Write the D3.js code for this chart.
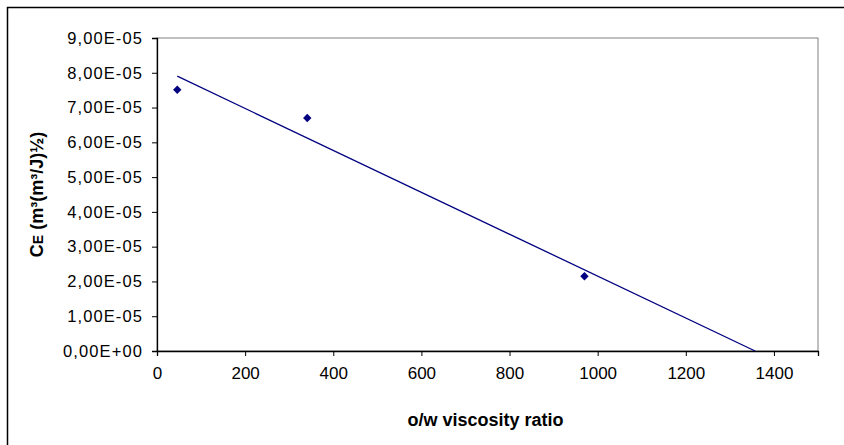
<!DOCTYPE html>
<html>
<head>
<meta charset="utf-8">
<script src="https://cdn.jsdelivr.net/npm/d3@7"></script>
<style>
  body { margin: 0; background: #fff; }
  svg text { font-family: "Liberation Sans", Arial, sans-serif; fill: #000; }
</style>
</head>
<body>
<svg id="chart" width="844" height="445"></svg>
<script>
// data
var viscosityRatio = [46, 341, 970];
var ceValues = [7.51e-5, 6.70e-5, 2.15e-5];
var xTicks = [0, 200, 400, 600, 800, 1000, 1200, 1400];
var yTicks = [0, 1e-5, 2e-5, 3e-5, 4e-5, 5e-5, 6e-5, 7e-5, 8e-5, 9e-5];

var svg = d3.select("#chart");

// outer chart border (only top/left visible in the crop)
svg.append("path")
   .attr("d", "M7.5,445 V7.5 H844")
   .attr("fill", "none")
   .attr("stroke", "#000")
   .attr("stroke-width", 1.5);

var plotL = 157, plotT = 38, plotR = 818, plotB = 351;

var x = d3.scaleLinear().domain([0, 1500]).range([plotL, plotR]);
var y = d3.scaleLinear().domain([0, 9e-5]).range([plotB, plotT]);

// plot area frame
svg.append("rect")
   .attr("x", plotL).attr("y", plotT)
   .attr("width", plotR - plotL).attr("height", plotB - plotT)
   .attr("fill", "none").attr("stroke", "#808080").attr("stroke-width", 1);

function fmt(v) {
  if (v === 0) return "0,00E+00";
  var e = Math.floor(Math.log10(v) + 1e-9);
  var m = v / Math.pow(10, e);
  return m.toFixed(2).replace(".", ",") + "E-" + String(-e).padStart(2, "0");
}

var yAxis = svg.append("g")
   .attr("transform", "translate(" + plotL + ",0)")
   .call(d3.axisLeft(y).tickValues(yTicks).tickSize(5).tickPadding(9).tickFormat(fmt));
yAxis.attr("font-size", 16.5);
yAxis.selectAll("text").style("letter-spacing", "1.1px");

var xAxis = svg.append("g")
   .attr("transform", "translate(0," + plotB + ")")
   .call(d3.axisBottom(x).tickValues(xTicks).tickSize(5).tickPadding(13).tickFormat(d3.format("d")));
xAxis.attr("font-size", 17);
xAxis.selectAll("text").attr("dy", "0.6em");

[yAxis, xAxis].forEach(function(a) {
  a.attr("font-family", null);
  a.select(".domain").attr("stroke", "#000").attr("stroke-width", 1.3);
  a.selectAll(".tick line").attr("stroke", "#000");
});

// linear trendline (least squares), drawn from first point to the x-axis
var n = viscosityRatio.length;
var mx = d3.mean(viscosityRatio), my = d3.mean(ceValues);
var sxy = 0, sxx = 0;
for (var i = 0; i < n; i++) {
  sxy += (viscosityRatio[i] - mx) * (ceValues[i] - my);
  sxx += (viscosityRatio[i] - mx) * (viscosityRatio[i] - mx);
}
var slope = sxy / sxx, intercept = my - slope * mx;
var x0 = d3.min(viscosityRatio), x1 = -intercept / slope;

svg.append("line")
   .attr("x1", x(x0)).attr("y1", y(intercept + slope * x0))
   .attr("x2", x(x1)).attr("y2", y(0))
   .attr("stroke", "#000080").attr("stroke-width", 1.3);

svg.selectAll(".pt")
   .data(viscosityRatio)
   .enter().append("path")
   .attr("class", "pt")
   .attr("d", d3.symbol().type(d3.symbolDiamond2).size(45))
   .attr("transform", function(d, i) { return "translate(" + x(d) + "," + y(ceValues[i]) + ")"; })
   .attr("fill", "#000080");

// axis titles
svg.append("text")
   .attr("x", (plotL + plotR) / 2 - 2).attr("y", 420)
   .attr("dy", "0.35em")
   .attr("text-anchor", "middle")
   .style("font-size", "18px").style("font-weight", "bold")
   .text("o/w viscosity ratio");

var yt = svg.append("text")
   .attr("transform", "translate(37," + ((plotT + plotB) / 2) + ") rotate(-90)")
   .attr("dy", "0.35em")
   .attr("text-anchor", "middle")
   .style("font-size", "18px").style("font-weight", "bold");
yt.append("tspan").text("C");
yt.append("tspan").style("font-size", "14px").text("E");
yt.append("tspan").text(" (m³(m³/J)½)");
</script>
</body>
</html>
